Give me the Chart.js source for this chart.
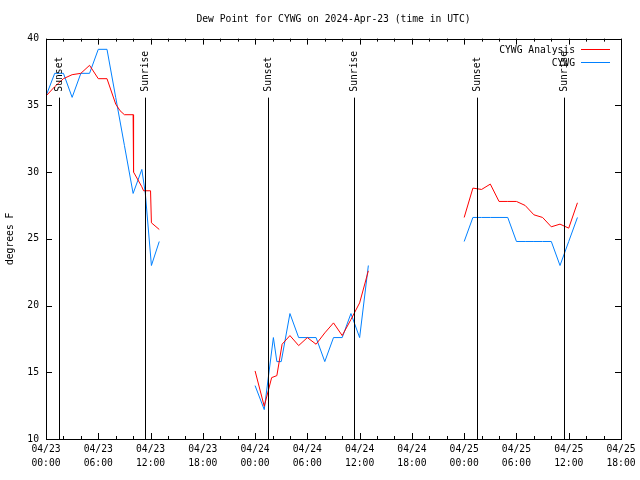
<!DOCTYPE html>
<html>
<head>
<meta charset="utf-8">
<title>Dew Point for CYWG</title>
<script src="https://cdn.jsdelivr.net/npm/chart.js@4.4.1/dist/chart.umd.min.js"></script>
<style>
  html, body { margin: 0; padding: 0; background: #fff; }
</style>
</head>
<body>
<canvas id="dewpoint" width="640" height="480"></canvas>
<script>
// hours since 2024-04-23 00:00 UTC; a null value breaks the line
const analysisHours = [0, 1, 2, 3, 4, 5, 6, 7, 8, 8.5, 9, 10, 10.05, 11, 11.2, 12, 12.1, 13,
  18,
  24, 25.05, 25.9, 26.5, 27.1, 28, 29, 30, 31, 32, 33, 34, 35, 36, 37,
  42,
  48, 49, 50, 51, 52, 53, 54, 55, 56, 57, 58, 59, 60, 61];
const analysisValues = [35.7, 36.4, 37.0, 37.3, 37.4, 38.0, 37.0, 37.0, 35.1, 34.6, 34.3, 34.3, 30.0, 28.9, 28.6, 28.6, 26.2, 25.7,
  null,
  15.1, 12.45, 14.6, 14.75, 17.1, 17.75, 17.0, 17.6, 17.1, 17.95, 18.7, 17.75, 18.95, 20.2, 22.6,
  null,
  26.6, 28.8, 28.7, 29.1, 27.8, 27.8, 27.8, 27.5, 26.8, 26.6, 25.9, 26.1, 25.8, 27.7];

const obsHours = [0, 1, 2, 3, 4, 5, 6, 7, 8, 9, 10, 11, 11.4, 12.1, 13,
  18,
  24, 25.05, 26.1, 26.5, 27, 28, 29, 30, 31, 32, 33, 34, 35, 36, 37,
  42,
  48, 49, 50, 51, 52, 53, 54, 55, 56, 57, 58, 59, 60, 61];
const obsValues = [35.7, 37.4, 37.4, 35.6, 37.4, 37.4, 39.2, 39.2, 35.6, 32.0, 28.4, 30.2, 28.4, 23.0, 24.8,
  null,
  14.0, 12.2, 17.6, 15.8, 15.8, 19.4, 17.6, 17.6, 17.6, 15.8, 17.6, 17.6, 19.4, 17.6, 23.0,
  null,
  24.8, 26.6, 26.6, 26.6, 26.6, 26.6, 24.8, 24.8, 24.8, 24.8, 24.8, 23.0, 24.8, 26.6];

const sunsetHours = [1.5, 25.5, 49.5];
const sunriseHours = [11.4, 35.4, 59.4];

const dayLabels = ["04/23", "04/24", "04/25"];
const timeLabels = ["00:00", "06:00", "12:00", "18:00"];
const xTickHours = [0, 6, 12, 18, 24, 30, 36, 42, 48, 54, 60, 66];
const yTickValues = [10, 15, 20, 25, 30, 35, 40];

const MONO = "'DejaVu Sans Mono', 'Liberation Mono', monospace";
const FS = 9.7;

const toPoints = (hs, vs) => hs.map((h, i) => ({ x: h, y: vs[i] }));

// frame, inward tics, sunrise/sunset markers and the key, gnuplot style
const decorations = {
  id: "decorations",
  afterDatasetsDraw(chart) {
    const { ctx, chartArea: a, scales } = chart;
    const xs = scales.x, ys = scales.y;
    ctx.save();
    ctx.strokeStyle = "#000";
    ctx.lineWidth = 1;

    ctx.strokeRect(Math.round(a.left) + 0.5, Math.round(a.top) + 0.5,
      Math.round(a.right - a.left), Math.round(a.bottom - a.top));

    ctx.beginPath();
    for (let h = 0; h <= 66; h += 2) {
      const x = Math.round(xs.getPixelForValue(h)) + 0.5;
      const len = h % 6 === 0 ? 6 : 3;
      ctx.moveTo(x, a.bottom); ctx.lineTo(x, a.bottom - len);
      ctx.moveTo(x, a.top); ctx.lineTo(x, a.top + len);
    }
    yTickValues.forEach(v => {
      const y = Math.round(ys.getPixelForValue(v)) + 0.5;
      ctx.moveTo(a.left, y); ctx.lineTo(a.left + 6, y);
      ctx.moveTo(a.right, y); ctx.lineTo(a.right - 6, y);
    });
    ctx.stroke();

    ctx.font = FS + "px " + MONO;
    ctx.fillStyle = "#000";
    const marker = (h, text) => {
      const x = Math.round(xs.getPixelForValue(h)) + 0.5;
      ctx.beginPath();
      ctx.moveTo(x, a.top + 59);
      ctx.lineTo(x, a.bottom);
      ctx.stroke();
      ctx.save();
      ctx.translate(x, a.top + 53);
      ctx.rotate(-Math.PI / 2);
      ctx.textAlign = "left";
      ctx.textBaseline = "middle";
      ctx.fillText(text, 0, 0);
      ctx.restore();
    };
    sunsetHours.forEach(h => marker(h, "Sunset"));
    sunriseHours.forEach(h => marker(h, "Sunrise"));

    // key
    chart.data.datasets.forEach((ds, i) => {
      const y = Math.round(a.top + 10 + i * 13.4) + 0.5;
      ctx.textAlign = "right";
      ctx.textBaseline = "middle";
      ctx.fillStyle = "#000";
      ctx.fillText(ds.label, a.right - 46, y + 1);
      ctx.strokeStyle = ds.borderColor;
      ctx.beginPath();
      ctx.moveTo(a.right - 40, y);
      ctx.lineTo(a.right - 11, y);
      ctx.stroke();
    });
    ctx.restore();
  }
};

new Chart(document.getElementById("dewpoint"), {
  type: "line",
  data: {
    datasets: [
      {
        label: "CYWG Analysis",
        data: toPoints(analysisHours, analysisValues),
        borderColor: "#ff0000",
        borderWidth: 1,
        pointRadius: 0,
        tension: 0,
        spanGaps: false
      },
      {
        label: "CYWG",
        data: toPoints(obsHours, obsValues),
        borderColor: "#0080ff",
        borderWidth: 1,
        pointRadius: 0,
        tension: 0,
        spanGaps: false
      }
    ]
  },
  options: {
    responsive: false,
    animation: false,
    layout: { padding: { left: 0, right: 19, top: 0, bottom: 0 } },
    plugins: {
      legend: { display: false },
      tooltip: { enabled: false },
      title: {
        display: true,
        fullSize: false,
        text: "Dew Point for CYWG on 2024-Apr-23 (time in UTC)",
        color: "#000",
        font: { family: MONO, size: FS, weight: "normal" },
        padding: { top: 14, bottom: 13 }
      }
    },
    scales: {
      x: {
        type: "linear",
        min: 0,
        max: 66,
        grid: { display: false, drawTicks: false },
        border: { display: false },
        afterBuildTicks: s => { s.ticks = xTickHours.map(v => ({ value: v })); },
        afterFit: s => { s.height = 41; },
        ticks: {
          autoSkip: false,
          maxRotation: 0,
          padding: 3,
          color: "#000",
          font: { family: MONO, size: FS, lineHeight: 1.5 },
          callback: v => [dayLabels[Math.floor(v / 24)], timeLabels[(v % 24) / 6]]
        }
      },
      y: {
        min: 10,
        max: 40,
        grid: { display: false, drawTicks: false },
        border: { display: false },
        afterBuildTicks: s => { s.ticks = yTickValues.map(v => ({ value: v })); },
        afterFit: s => { s.width = 46; },
        ticks: {
          padding: 7,
          color: "#000",
          font: { family: MONO, size: FS }
        },
        title: {
          display: true,
          text: "degrees F",
          color: "#000",
          font: { family: MONO, size: FS },
          padding: { top: 5, bottom: 0 }
        }
      }
    }
  },
  plugins: [decorations]
});
</script>
</body>
</html>
